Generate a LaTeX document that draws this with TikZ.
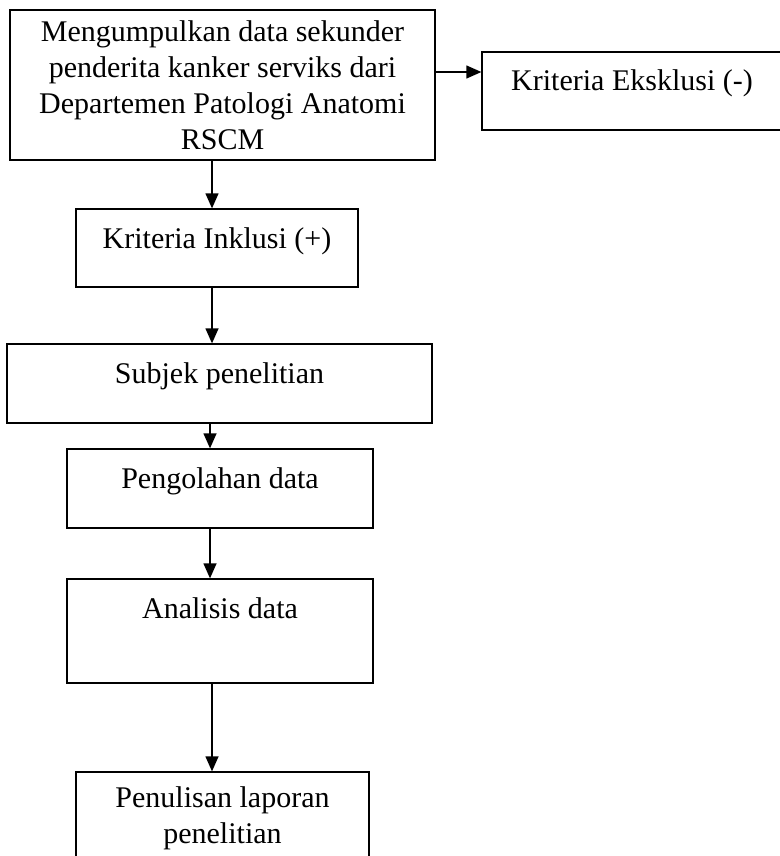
\documentclass[tikz,border=0pt]{standalone}
\usepackage{fontspec}
\setmainfont{Liberation Serif}
\usetikzlibrary{arrows.meta}
\tikzset{
  box/.style = {draw, line width=1.3pt, inner sep=0pt, text height=21pt, text depth=21pt},
  tallbox/.style = {draw, line width=1.3pt, inner sep=0pt, align=center},
  arr/.style = {line width=1.3pt, -{Triangle[length=15pt, width=13pt]}}
}
\begin{document}
\begin{tikzpicture}[x=1pt, y=-1pt, font=\fontsize{30}{36}\selectfont]
  \useasboundingbox (0,0) rectangle (779,856);
  \node[tallbox, minimum width=425pt, minimum height=150pt] (collect) at (222.5,85)
    {Mengumpulkan data sekunder\\penderita kanker serviks dari\\Departemen Patologi Anatomi\\RSCM};
  \node[box, minimum width=300pt, minimum height=78pt] (exclude) at (632,91) {Kriteria Eksklusi (-)};
  \node[box, minimum width=282pt, minimum height=78pt] (include) at (217,248) {Kriteria Inklusi (+)};
  \node[box, minimum width=425pt, minimum height=79pt] (subject) at (219.5,383.5) {Subjek penelitian};
  \node[box, minimum width=306pt, minimum height=79pt] (process) at (220,488.5) {Pengolahan data};
  \node[box, minimum width=306pt, minimum height=104pt, text depth=47pt] (analysis) at (220,631) {Analisis data};
  \node[tallbox, minimum width=293pt, minimum height=92pt] (report) at (222.5,818)
    {Penulisan laporan\\penelitian};
  \draw[arr] ([yshift=19pt]exclude.west -| collect.east) -- ([yshift=19pt]exclude.west);
  \draw[arr] ([xshift=-5pt]include.north |- collect.south) -- ([xshift=-5pt]include.north);
  \draw[arr] ([xshift=-5pt]include.south) -- ([xshift=-5pt]include.south |- subject.north);
  \draw[arr] ([xshift=-10pt]process.north |- subject.south) -- ([xshift=-10pt]process.north);
  \draw[arr] ([xshift=-10pt]process.south) -- ([xshift=-10pt]analysis.north);
  \draw[arr] ([xshift=-10.5pt]report.north |- analysis.south) -- ([xshift=-10.5pt]report.north);
\end{tikzpicture}
\end{document}
